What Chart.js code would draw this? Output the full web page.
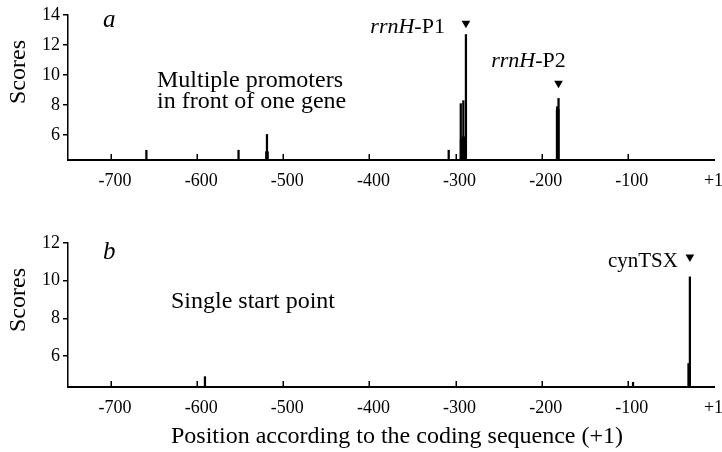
<!DOCTYPE html>
<html><head><meta charset="utf-8">
<script src="https://cdn.jsdelivr.net/npm/chart.js@4/dist/chart.umd.min.js"></script>
<style>
html,body{margin:0;padding:0;background:#fff;}
#wrap{position:relative;width:722px;height:452px;overflow:hidden;}
.pane{position:absolute;left:0;width:722px;}
</style></head><body>
<div id="wrap">
<div class="pane" style="top:0;height:200px"><canvas id="c1" width="722" height="200"></canvas></div>
<div class="pane" style="top:200px;height:252px"><canvas id="c2" width="722" height="252"></canvas></div>
</div>
<script>
// ---- data ----
const xTickValues = [-700, -600, -500, -400, -300, -200, -100, 0];
const xTickLabels = ['-700', '-600', '-500', '-400', '-300', '-200', '-100', '+1\u2002'];
const topYTicks = [6, 8, 10, 12, 14];
const bottomYTicks = [6, 8, 10, 12];

const topLinePositions = [-659, -552, -519, -308, -294, -291, -288, -182, -180.5];
const topLineScores    = [5.0, 5.0, 6.05, 5.0, 8.1, 8.3, 12.7, 7.9, 8.45];
const topBlockPositions = [-519, -293, -291, -289, -181.5];
const topBlockScores    = [4.9, 5.7, 5.9, 5.6, 7.7];
const topMarkerPositions = [-288, -180.5];
const topMarkerScores    = [13.45, 9.45];
const topMarkerLabels    = ['rrnH-P1', 'rrnH-P2'];

const bottomLinePositions = [-591, -94, -28];
const bottomLineScores    = [4.9, 4.6, 10.2];
const bottomBlockPositions = [-28.8];
const bottomBlockScores    = [5.6];
const bottomMarkerPositions = [-28];
const bottomMarkerScores    = [11.25];
const bottomMarkerLabels    = ['cynTSX'];

// ---- helpers ----
const SERIF = '"Liberation Serif", "Times New Roman", serif';
const pts = (xs, ys) => xs.map((x, i) => ({x: x, y: ys[i]}));

function drawItalicPrefix(ctx, text, x, y, size, align) {
  const m = text.match(/^([a-zA-Z]+)(-.*)$/);
  const a = m ? m[1] : text, b = m ? m[2] : '';
  ctx.font = 'italic ' + size + 'px ' + SERIF;
  const wa = ctx.measureText(a).width;
  ctx.font = size + 'px ' + SERIF;
  const wb = ctx.measureText(b).width;
  let x0 = x;
  if (align === 'right') x0 = x - wa - wb;
  else if (align === 'center') x0 = x - (wa + wb) / 2;
  ctx.textAlign = 'left';
  ctx.font = 'italic ' + size + 'px ' + SERIF;
  ctx.fillText(a, x0, y);
  ctx.font = size + 'px ' + SERIF;
  ctx.fillText(b, x0 + wa, y);
}

const decor = {
  id: 'decor',
  afterDraw(chart, args, opts) {
    const ctx = chart.ctx;
    const xs = chart.scales.x, ys = chart.scales.y;
    ctx.save();
    ctx.strokeStyle = '#000';
    ctx.lineWidth = 1.5;
    xs.ticks.forEach(t => {
      if (t.value === 0) return;
      const px = Math.round(xs.getPixelForValue(t.value)) + 0.25;
      ctx.beginPath();
      ctx.moveTo(px, ys.bottom);
      ctx.lineTo(px, ys.bottom - 6);
      ctx.stroke();
    });
    ctx.fillStyle = '#000';
    ctx.textBaseline = 'alphabetic';
    ctx.font = 'italic 25px ' + SERIF;
    ctx.textAlign = 'left';
    ctx.fillText(opts.letter, opts.letterX, opts.letterY);
    ctx.font = '24px ' + SERIF;
    opts.note.forEach((line, i) => ctx.fillText(line, opts.noteX, opts.noteY + i * 21));
    ctx.save();
    ctx.translate(opts.yTitleX, opts.yTitleY);
    ctx.rotate(-Math.PI / 2);
    ctx.textAlign = 'center';
    ctx.font = '24px ' + SERIF;
    ctx.fillText('Scores', 0, 0);
    ctx.restore();
    const meta = chart.getDatasetMeta(chart.data.datasets.length - 1);
    opts.markerLabels.forEach((lab, i) => {
      const el = meta.data[i];
      const o = opts.labelOffsets[i];
      if (opts.italicPrefix) drawItalicPrefix(ctx, lab, el.x + o[0], el.y + o[1], opts.labelSize, o[2]);
      else {
        ctx.font = opts.labelSize + 'px ' + SERIF;
        ctx.textAlign = o[2];
        ctx.fillText(lab, el.x + o[0], el.y + o[1]);
      }
    });
    if (opts.xTitle) {
      ctx.font = '24px ' + SERIF;
      ctx.textAlign = 'center';
      ctx.fillText(opts.xTitle, opts.xTitleX, opts.xTitleY);
    }
    ctx.restore();
  }
};

function makeChart(id, cfg) {
  return new Chart(document.getElementById(id), {
    type: 'bar',
    data: {
      datasets: [
        {type: 'bar', data: pts(cfg.linePos, cfg.lineVal), backgroundColor: '#000', barThickness: 1.6, grouped: false},
        {type: 'bar', data: pts(cfg.blockPos, cfg.blockVal), backgroundColor: '#000', barThickness: 3, grouped: false},
        {type: 'line', data: pts(cfg.markPos, cfg.markVal), showLine: false, pointStyle: 'triangle', rotation: 180,
         pointRadius: 5, backgroundColor: '#000', borderColor: '#000', borderWidth: 0}
      ]
    },
    options: {
      responsive: false,
      animation: false,
      devicePixelRatio: 1,
      layout: {padding: {left: 0, right: 8, top: cfg.padTop, bottom: 0}},
      plugins: {legend: {display: false}, tooltip: {enabled: false}, decor: cfg.decor},
      scales: {
        x: {
          type: 'linear', min: -750, max: 0, offset: false,
          afterBuildTicks: s => { s.ticks = xTickValues.map(v => ({value: v})); },
          afterFit: s => { s.height = cfg.xHeight; s.paddingLeft = 0; s.paddingRight = 0; },
          ticks: {callback: (v, i) => xTickLabels[i], font: {family: SERIF, size: 18}, color: '#000',
                  padding: 10, labelOffset: 4, autoSkip: false, maxRotation: 0},
          grid: {display: false, drawTicks: false},
          border: {display: true, color: '#000', width: 2}
        },
        y: {
          min: 4.35, max: cfg.yMax,
          afterBuildTicks: s => { s.ticks = cfg.yTicks.map(v => ({value: v})); },
          afterFit: s => { s.width = 68; s.paddingTop = 0; s.paddingBottom = 0; },
          ticks: {font: {family: SERIF, size: 18}, color: '#000', padding: 3},
          grid: {drawOnChartArea: false, drawTicks: true, tickLength: 5, color: '#000', lineWidth: 1.5},
          border: {display: true, color: '#000', width: 1.5}
        }
      }
    },
    plugins: [decor]
  });
}

makeChart('c1', {
  linePos: topLinePositions, lineVal: topLineScores,
  blockPos: topBlockPositions, blockVal: topBlockScores,
  markPos: topMarkerPositions, markVal: topMarkerScores,
  yMax: 14, yTicks: topYTicks, padTop: 15, xHeight: 40,
  decor: {letter: 'a', letterX: 103, letterY: 27,
          note: ['Multiple promoters', 'in front of one gene'], noteX: 157, noteY: 87,
          yTitleX: 25, yTitleY: 72,
          markerLabels: topMarkerLabels, italicPrefix: true, labelSize: 22,
          labelOffsets: [[-21, 10, 'right'], [-30, -16, 'center']]}
});

makeChart('c2', {
  linePos: bottomLinePositions, lineVal: bottomLineScores,
  blockPos: bottomBlockPositions, blockVal: bottomBlockScores,
  markPos: bottomMarkerPositions, markVal: bottomMarkerScores,
  yMax: 12, yTicks: bottomYTicks, padTop: 43, xHeight: 65,
  decor: {letter: 'b', letterX: 103, letterY: 59,
          note: ['Single start point'], noteX: 171, noteY: 108,
          yTitleX: 25, yTitleY: 100,
          markerLabels: bottomMarkerLabels, italicPrefix: false, labelSize: 21,
          labelOffsets: [[-12, 10, 'right']],
          xTitle: 'Position according to the coding sequence (+1)', xTitleX: 397, xTitleY: 243}
});
</script>
</body></html>
